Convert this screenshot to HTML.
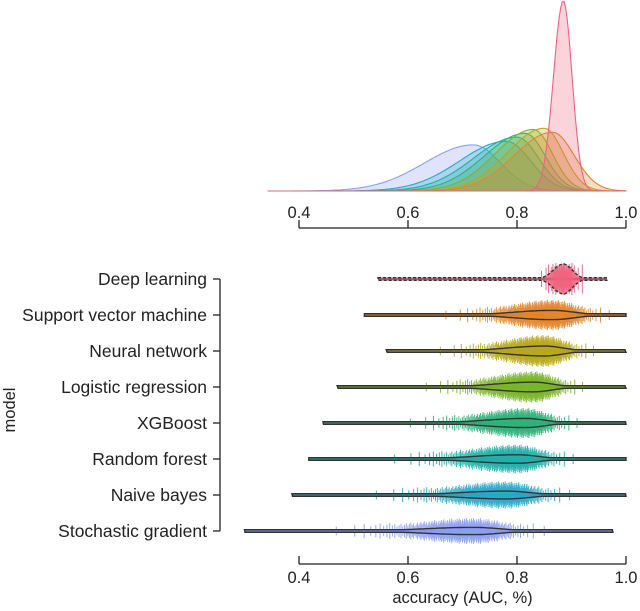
<!DOCTYPE html>
<html><head><meta charset="utf-8"><style>
body{margin:0;background:#fff;font-family:"Liberation Sans",sans-serif}
svg text{font-family:"Liberation Sans",sans-serif;fill:#222}
</style></head><body>
<svg id="c" width="640" height="606" xmlns="http://www.w3.org/2000/svg"></svg>
<script>
const models=["Deep learning","Support vector machine","Neural network","Logistic regression","XGBoost","Random forest","Naive bayes","Stochastic gradient"];
const modes=[0.885,0.865,0.85,0.83,0.815,0.80,0.78,0.72];
const leftSd=[0.018,0.07,0.068,0.07,0.075,0.08,0.085,0.09];
const rightSd=[0.016,0.04,0.035,0.035,0.037,0.04,0.045,0.05];
const mins=[0.545,0.52,0.56,0.47,0.444,0.418,0.387,0.30];
const maxs=[0.965,1.0,1.0,1.0,1.0,1.0,1.0,0.976];
const colors=["#f0627f","#e4862a","#b8a81c","#7cb52a","#2cb47a","#1fb0a8","#2aa8c8","#8c9ff5"];
const ticks=[0.4,0.6,0.8,1.0];
const tickLabels=["0.4","0.6","0.8","1.0"];

const svg=document.getElementById('c');const NS="http://www.w3.org/2000/svg";
function el(t,a,p){const e=document.createElementNS(NS,t);for(const k in a)e.setAttribute(k,a[k]);(p||svg).appendChild(e);return e;}
const X=v=>299+(v-0.4)*545;
const rowY=i=>279+i*36;
function pdf(x,i){const m=modes[i],s=x<m?leftSd[i]:rightSd[i];return 2/(Math.sqrt(2*Math.PI)*(leftSd[i]+rightSd[i]))*Math.exp(-0.5*((x-m)/s)**2);}
const baseY=191, K=190/pdf(modes[0],0);
const dg=el('g',{});

for(let i=models.length-1;i>=0;i--){
  let d="M"+X(0.343).toFixed(1)+","+baseY;
  for(let v=0.343;v<=1.0001;v+=0.003){d+=" L"+X(v).toFixed(1)+","+(baseY-pdf(v,i)*K).toFixed(1);}
  d+=" L"+X(1.0)+","+baseY+" Z";
  const p=el('path',{d:d,fill:colors[i],'fill-opacity':0.28,stroke:colors[i],'stroke-width':1.1},dg);
  
  
}
function axis(y,name,labelY){
  const g=el('g',{});
  el('line',{x1:X(0.4),x2:X(1.0),y1:y,y2:y,stroke:'#222','stroke-width':1.3},g);
  ticks.forEach((t,k)=>{el('line',{x1:X(t),x2:X(t),y1:y,y2:y-8,stroke:'#222','stroke-width':1.3},g);
    const tx=el('text',{x:X(t),y:labelY,'text-anchor':'middle','font-size':16.5},g);tx.textContent=tickLabels[k];});
}
axis(228,'top-x-axis',218);
axis(564,'bottom-x-axis',583);
const xt=el('text',{x:X(0.7),y:603,'text-anchor':'middle','font-size':16.5});xt.textContent="accuracy (AUC, %)";

const yg=el('g',{});
el('line',{x1:220,x2:220,y1:rowY(0),y2:rowY(7),stroke:'#222','stroke-width':1.3},yg);
models.forEach((m,i)=>{el('line',{x1:213,x2:220,y1:rowY(i),y2:rowY(i),stroke:'#222','stroke-width':1.3},yg);
  const t=el('text',{x:207,y:rowY(i)+6,'text-anchor':'end','font-size':17.5},yg);t.textContent=m;});
const yt=el('text',{x:15,y:410,'text-anchor':'middle','font-size':16.5,transform:'rotate(-90 15 410)'});yt.textContent="model";

function inv(p){const a=[-39.696830,220.946098,-275.928510,138.357751,-30.664798,2.506628],b=[-54.476098,161.585836,-155.698979,66.801311,-13.280681],c=[-0.007784894,-0.3223964,-2.400758,-2.549732,4.374664,2.938163],d=[0.007784695,0.3224671,2.445134,3.754408];
 const pl=0.02425;let q,r;
 if(p<pl){q=Math.sqrt(-2*Math.log(p));return(((((c[0]*q+c[1])*q+c[2])*q+c[3])*q+c[4])*q+c[5])/((((d[0]*q+d[1])*q+d[2])*q+d[3])*q+1);}
 if(p>1-pl){q=Math.sqrt(-2*Math.log(1-p));return-(((((c[0]*q+c[1])*q+c[2])*q+c[3])*q+c[4])*q+c[5])/((((d[0]*q+d[1])*q+d[2])*q+d[3])*q+1);}
 q=p-0.5;r=q*q;return(((((a[0]*r+a[1])*r+a[2])*r+a[3])*r+a[4])*r+a[5])*q/(((((b[0]*r+b[1])*r+b[2])*r+b[3])*r+b[4])*r+1);}
function quant(p,i){const sl=leftSd[i],sr=rightSd[i],pL=sl/(sl+sr);
  return p<pL?modes[i]+sl*inv(p/pL*0.5):modes[i]+sr*inv(0.5+(p-pL)/(1-pL)*0.5);}
const KV=15/pdf(modes[0],0);
models.forEach((m,i)=>{
  const g=el('g',{});
  
  
  const y=rowY(i);
  const hw=v=>Math.max(1.3,pdf(v,i)*KV);
  el('line',{x1:X(mins[i]),x2:X(maxs[i]),y1:y,y2:y,stroke:'#444','stroke-width':2.8},g);
  const n=i==0?36:150;
  for(let k=0;k<n;k++){const v=quant((k+0.5)/n,i);if(v<mins[i]||v>maxs[i])continue;
    const f=0.5+0.5*((k*37)%11)/10;
    const h=i==0?16*f:(hw(v)*2.2+4)*f+1;
    el('line',{x1:X(v),x2:X(v),y1:y-h,y2:y+h,stroke:colors[i],'stroke-width':1,'stroke-opacity':0.9},g);}
  let top="",bot="";
  for(let v=mins[i];v<=maxs[i]+1e-9;v+=0.003){top+=(top?" L":"M")+X(v).toFixed(1)+","+(y-hw(v)).toFixed(1);}
  for(let v=maxs[i];v>=mins[i]-1e-9;v-=0.003){bot+=" L"+X(v).toFixed(1)+","+(y+hw(v)).toFixed(1);}
  el('path',{d:top+bot+" Z",fill:colors[i],'fill-opacity':0.7,stroke:'#333','stroke-width':1.4,'stroke-dasharray':i==0?'3,2':'none'},g);
});
</script>
</body></html>
